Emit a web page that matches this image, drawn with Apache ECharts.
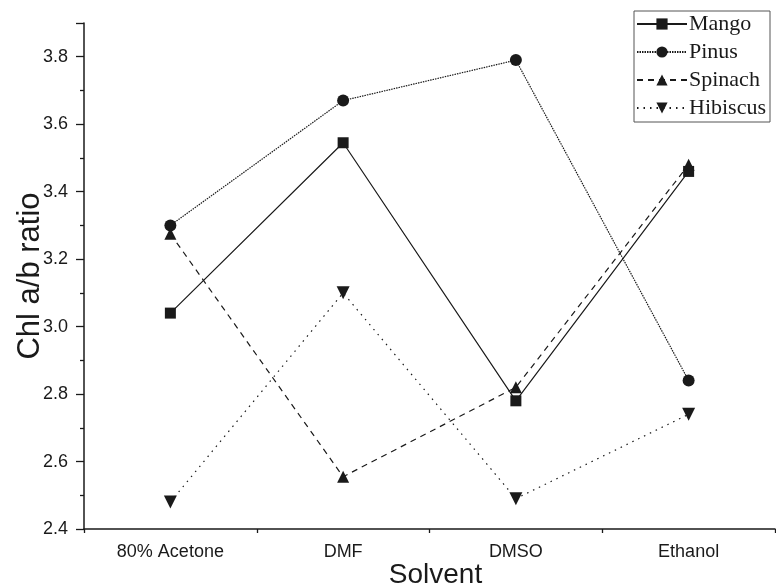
<!DOCTYPE html>
<html>
<head>
<meta charset="utf-8">
<script src="https://cdn.jsdelivr.net/npm/echarts@6/dist/echarts.min.js"></script>
<style>
  html, body { margin: 0; padding: 0; background: #fff; }
  #chart { width: 776px; height: 587px; }
</style>
</head>
<body>
<div id="chart"></div>
<script>
// Solvents on the category axis
const solvents = ['80% Acetone', 'DMF', 'DMSO', 'Ethanol'];

// Chl a/b ratio per plant, one value per solvent
const mango    = [3.04, 3.545, 2.78, 3.46];
const pinus    = [3.30, 3.67, 3.79, 2.84];
const spinach  = [3.275, 2.555, 2.82, 3.48];
const hibiscus = [2.48, 3.10, 2.49, 2.74];

const yTicks = { min: 2.4, max: 3.9, step: 0.2 };

const ink = '#1a1a1a';
const downTriangle = 'path://M0,0 L12,0 L6,10 Z';

function lineSeries(name, data, symbol, size, lineType) {
  return {
    name: name,
    type: 'line',
    data: data,
    symbol: symbol,
    symbolSize: size,
    itemStyle: { color: ink },
    lineStyle: { color: ink, width: 1.2, type: lineType },
    emphasis: { disabled: true },
    z: 3
  };
}

const chart = echarts.init(document.getElementById('chart'), null, { renderer: 'canvas' });

chart.setOption({
  animation: false,
  backgroundColor: '#fff',
  grid: { left: 84, right: 1, top: 23, bottom: 58, containLabel: false, outerBoundsMode: 'none' },
  legend: {
    right: 6,
    top: 11,
    orient: 'vertical',
    itemWidth: 50,
    itemHeight: 14,
    itemGap: 6,
    padding: [2, 4, 3, 2],
    borderColor: '#555',
    borderWidth: 1,
    borderRadius: 0,
    backgroundColor: '#fff',
    textStyle: { fontFamily: 'Liberation Serif', fontSize: 22, color: ink, padding: [0, 0, 0, -3] },
    data: ['Mango', 'Pinus', 'Spinach', 'Hibiscus']
  },
  xAxis: [
    {
      type: 'category',
      data: solvents,
      boundaryGap: true,
      name: 'Solvent',
      nameLocation: 'middle',
      nameGap: 32,
      nameMoveOverlap: false,
      nameTextStyle: { fontFamily: 'Liberation Sans', fontSize: 28, color: ink, padding: [0, 0, 0, 12] },
      axisLine: { lineStyle: { color: ink, width: 1.5 } },
      axisTick: { alignWithLabel: true, length: 8, lineStyle: { color: ink, width: 1.3 } },
      axisLabel: { fontFamily: 'Liberation Sans', fontSize: 18, color: ink, margin: 14 },
      splitLine: { show: false }
    },
    {
      type: 'category',
      data: solvents,
      boundaryGap: true,
      position: 'bottom',
      axisLine: { show: false },
      axisTick: { show: true, length: 4, lineStyle: { color: ink, width: 1.3 } },
      axisLabel: { show: false },
      splitLine: { show: false }
    }
  ],
  yAxis: {
    type: 'value',
    min: yTicks.min,
    max: yTicks.max,
    interval: yTicks.step,
    name: 'Chl a/b ratio',
    nameLocation: 'middle',
    nameGap: 38,
    nameMoveOverlap: false,
    nameTextStyle: { fontFamily: 'Liberation Sans', fontSize: 31, color: ink },
    axisLine: { show: true, lineStyle: { color: ink, width: 1.5 } },
    axisTick: { show: true, length: 8, lineStyle: { color: ink, width: 1.3 } },
    minorTick: { show: true, splitNumber: 2, length: 4, lineStyle: { color: ink, width: 1.3 } },
    axisLabel: {
      fontFamily: 'Liberation Sans', fontSize: 18, color: ink, margin: 16,
      showMaxLabel: false,
      formatter: v => v.toFixed(1)
    },
    splitLine: { show: false }
  },
  series: [
    lineSeries('Mango', mango, 'rect', 11, 'solid'),
    lineSeries('Pinus', pinus, 'circle', 12, [1.5, 1]),
    lineSeries('Spinach', spinach, 'triangle', 12, [6, 5]),
    lineSeries('Hibiscus', hibiscus, downTriangle, 13, [1.5, 5])
  ]
});
</script>
</body>
</html>
